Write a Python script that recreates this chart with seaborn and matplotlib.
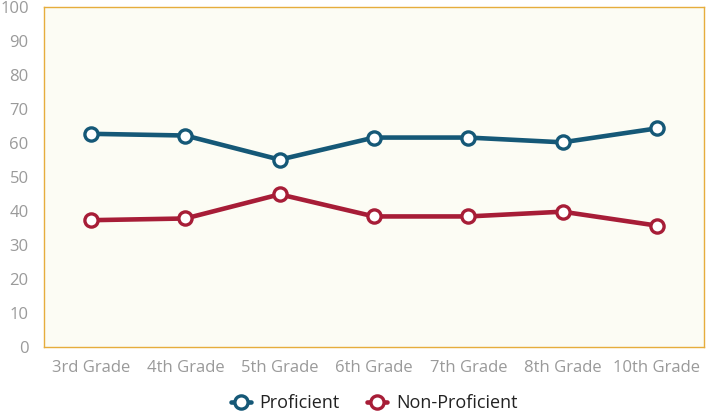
import matplotlib
matplotlib.use("Agg")
import matplotlib.pyplot as plt
import seaborn as sns
import pandas as pd

grades = ["3rd Grade", "4th Grade", "5th Grade", "6th Grade", "7th Grade", "8th Grade", "10th Grade"]
proficient = [62.7, 62.2, 55.1, 61.6, 61.6, 60.2, 64.3]
non_proficient = [37.3, 37.8, 44.9, 38.4, 38.4, 39.8, 35.7]
series_names = ["Proficient", "Non-Proficient"]
colors = ["#155877", "#a71d37"]
y_ticks = list(range(0, 101, 10))

df = pd.DataFrame({
    "grade": grades * 2,
    "value": proficient + non_proficient,
    "series": [series_names[0]] * len(grades) + [series_names[1]] * len(grades),
})

sns.set_theme(style="white")
plt.rcParams["font.family"] = ["Open Sans", "DejaVu Sans"]

fig = plt.figure(figsize=(7.13, 4.17), dpi=100)
ax = fig.add_axes([44 / 713, 1 - 347 / 417, 660 / 713, 340 / 417])
ax.set_facecolor("#fcfcf4")

sns.lineplot(data=df, x="grade", y="value", hue="series", palette=colors,
             marker="o", markersize=9.5, markerfacecolor="white", markeredgewidth=2.4,
             linewidth=3.3, ax=ax, sort=False)
for line, c in zip(ax.lines, colors):
    line.set_markeredgecolor(c)

ax.set_xlim(-0.5, len(grades) - 0.5)
ax.set_ylim(0, 100)
ax.set_yticks(y_ticks)
ax.set_xlabel("")
ax.set_ylabel("")
ax.tick_params(axis="both", length=0, labelsize=12, colors="#9a9a9a")
ax.tick_params(axis="y", pad=11)
ax.tick_params(axis="x", pad=9)
for s in ax.spines.values():
    s.set_color("#e6ad3c")
    s.set_linewidth(1.0)

handles, labels = ax.get_legend_handles_labels()
for h, c in zip(handles, colors):
    h.set_markeredgecolor(c)
    h.set_markerfacecolor("white")
ax.legend(handles, labels, loc="center", bbox_to_anchor=(0.5, -0.165),
          ncol=2, frameon=False, fontsize=13, handlelength=1.1,
          columnspacing=1.5, handletextpad=0.5, labelcolor="#222222")

fig.savefig("out.png", dpi=100)
